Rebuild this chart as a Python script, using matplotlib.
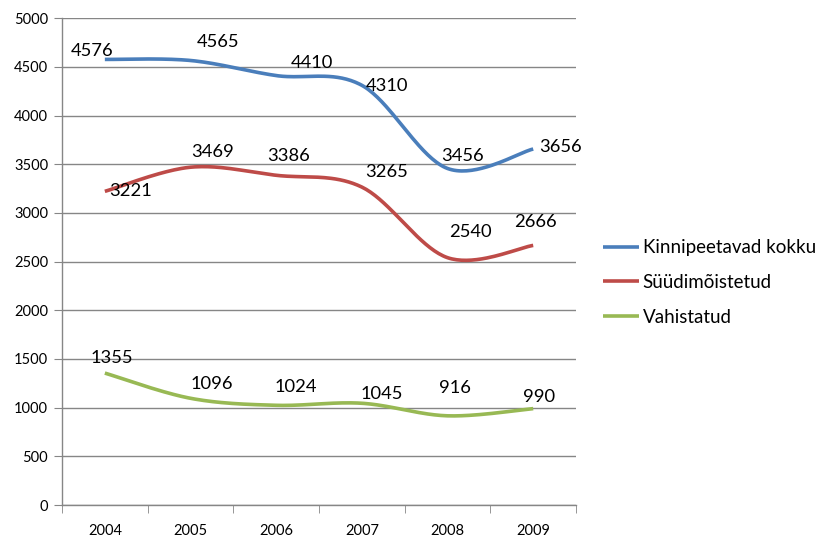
import numpy as np
import matplotlib
matplotlib.use('Agg')
import matplotlib.pyplot as plt

plt.rcParams['font.family'] = ['Lato', 'DejaVu Sans']

# Data
years = ['2004', '2005', '2006', '2007', '2008', '2009']
kinnipeetavad = [4576, 4565, 4410, 4310, 3456, 3656]
syydimoistetud = [3221, 3469, 3386, 3265, 2540, 2666]
vahistatud = [1355, 1096, 1024, 1045, 916, 990]
series_names = ['Kinnipeetavad kokku', 'Süüdimõistetud', 'Vahistatud']
colors = ['#4A7EBB', '#BE4B48', '#98B954']

# label offsets in pixels (dx, dy) relative to each point
offsets = [
    [(-13, 8), (27, 18), (36, 13), (25, -1), (15, 12), (27, 2)],
    [(26, 0), (22, 15), (12, 19), (25, 15), (23, 26), (2, 23)],
    [(7, 15), (21, 14), (20, 18), (20, 9), (7, 28), (6, 12)],
]


def smooth(x, y, n=40):
    # Bezier smoothing similar to spreadsheet "smoothed line"
    x = np.asarray(x, float)
    y = np.asarray(y, float)
    px = np.concatenate([[x[0]], x, [x[-1]]])
    py = np.concatenate([[y[0]], y, [y[-1]]])
    xs, ys = [], []
    t = np.linspace(0, 1, n)
    for i in range(1, len(px) - 2):
        p0 = np.array([px[i], py[i]])
        p3 = np.array([px[i + 1], py[i + 1]])
        p1 = p0 + (np.array([px[i + 1], py[i + 1]]) - np.array([px[i - 1], py[i - 1]])) / 6
        p2 = p3 - (np.array([px[i + 2], py[i + 2]]) - np.array([px[i], py[i]])) / 6
        b = ((1 - t) ** 3)[:, None] * p0 + (3 * (1 - t) ** 2 * t)[:, None] * p1 \
            + (3 * (1 - t) * t ** 2)[:, None] * p2 + (t ** 3)[:, None] * p3
        xs.append(b[:, 0])
        ys.append(b[:, 1])
    return np.concatenate(xs), np.concatenate(ys)


fig = plt.figure(figsize=(8.15, 5.41), dpi=100)
ax = fig.add_axes([0.0761, 0.0665, 0.6307, 0.900])

x = np.arange(len(years))
for vals, name, col, offs in zip([kinnipeetavad, syydimoistetud, vahistatud],
                                 series_names, colors, offsets):
    sx, sy = smooth(x, vals)
    ax.plot(sx, sy, color=col, lw=2.6, label=name, solid_capstyle='butt', zorder=3)
    for xi, v, (dx, dy) in zip(x, vals, offs):
        ax.annotate(str(v), (xi, v), xytext=(dx, dy), textcoords='offset pixels',
                    ha='center', va='center', fontsize=13.2, color='black', zorder=4)

ax.set_xlim(-0.5, len(years) - 0.5)
ax.set_ylim(0, 5000)
ax.set_yticks(np.arange(0, 5001, 500))
ax.yaxis.grid(True, color='#868686', lw=1)
ax.set_axisbelow(True)

ax.set_xticks(x)
ax.set_xticklabels(years)
ax.set_xticks(np.arange(-0.5, len(years)), minor=True)
ax.tick_params(axis='x', which='major', length=0, pad=14, labelsize=10.5)
ax.tick_params(axis='x', which='minor', length=6, color='#868686', direction='out')
ax.tick_params(axis='y', length=6, color='#868686', labelsize=10.5, pad=4)

for s in ['top', 'right']:
    ax.spines[s].set_visible(False)
for s in ['left', 'bottom']:
    ax.spines[s].set_color('#868686')
    ax.spines[s].set_linewidth(1)

ax.legend(loc='center left', bbox_to_anchor=(1.02, 0.457), frameon=False,
          fontsize=13.5, handlelength=1.9, handletextpad=0.2, labelspacing=0.95)

fig.savefig('out.png', dpi=100)
